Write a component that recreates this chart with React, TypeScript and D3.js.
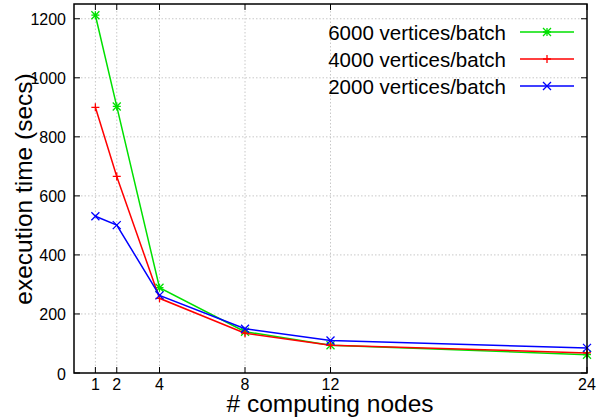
import React from "react";
import * as d3 from "d3";

const nodes = [1, 2, 4, 8, 12, 24];
const v6000 = [1212, 903, 289, 140, 94, 62];
const v4000 = [900, 666, 253, 135, 94, 68];
const v2000 = [531, 501, 263, 150, 110, 85];
const xTicks = [1, 2, 4, 8, 12, 24];
const yTicks = [0, 200, 400, 600, 800, 1000, 1200];
const seriesNames = ["6000 vertices/batch", "4000 vertices/batch", "2000 vertices/batch"];
const seriesColors = ["#00e000", "#ff0000", "#0000ff"];

const W = 611, H = 419;
const L = 74, R = 587, T = 4, B = 373;

function Marker({ type, x, y, color }: { type: number; x: number; y: number; color: string }) {
  const s = 4;
  const plus = `M${x - s},${y}H${x + s}M${x},${y - s}V${y + s}`;
  const cross = `M${x - s},${y - s}L${x + s},${y + s}M${x - s},${y + s}L${x + s},${y - s}`;
  const d = type === 0 ? plus + cross : type === 1 ? plus : cross;
  return <path d={d} stroke={color} strokeWidth={1.3} fill="none" />;
}

export default function App() {
  const x = d3.scaleLinear().domain([0, 24]).range([L, R]);
  const y = d3.scaleLinear().domain([0, 1250]).range([B, T]);
  const data = [v6000, v4000, v2000];
  const line = d3.line<number>().x((_, i) => x(nodes[i])).y((d) => y(d));
  const font = "'Liberation Sans', Arial, sans-serif";
  const markerType = [0, 1, 2];
  return (
    <svg width={W} height={H} style={{ position: "absolute", left: 0, top: 0 }} fontFamily={font}>
      <rect width={W} height={H} fill="#fff" />
      {/* grid */}
      {xTicks.filter((t) => t < 24).map((t) => (
        <line key={"gx" + t} x1={x(t)} x2={x(t)} y1={T} y2={B} stroke="#c8c8c8" strokeDasharray="1.5,2" />
      ))}
      {yTicks.filter((t) => t > 0).map((t) => (
        <line key={"gy" + t} x1={L} x2={R} y1={y(t)} y2={y(t)} stroke="#c8c8c8" strokeDasharray="1.5,2" />
      ))}
      {/* ticks */}
      {xTicks.map((t) => (
        <g key={"tx" + t}>
          <line x1={x(t)} x2={x(t)} y1={B} y2={B - 6} stroke="#000" />
          <line x1={x(t)} x2={x(t)} y1={T} y2={T + 6} stroke="#000" />
          <text x={x(t)} y={390} textAnchor="middle" fontSize={16}>{t}</text>
        </g>
      ))}
      {yTicks.map((t) => (
        <g key={"ty" + t}>
          <line x1={L} x2={L + 6} y1={y(t)} y2={y(t)} stroke="#000" />
          <line x1={R} x2={R - 6} y1={y(t)} y2={y(t)} stroke="#000" />
          <text x={66} y={y(t) + 6.5} textAnchor="end" fontSize={16}>{t}</text>
        </g>
      ))}
      {/* series */}
      {data.map((vals, si) => (
        <g key={"s" + si}>
          <path d={line(vals) || ""} fill="none" stroke={seriesColors[si]} strokeWidth={1.5} />
          {vals.map((v, i) => (
            <Marker key={i} type={markerType[si]} x={x(nodes[i])} y={y(v)} color={seriesColors[si]} />
          ))}
        </g>
      ))}
      {/* legend */}
      {seriesNames.map((n, i) => {
        const cy = 32 + i * 27;
        return (
          <g key={"lg" + i}>
            <text x={506} y={cy + 7.5} textAnchor="end" fontSize={20.5}>{n}</text>
            <line x1={520} x2={574} y1={cy} y2={cy} stroke={seriesColors[i]} strokeWidth={1.5} />
            <Marker type={markerType[i]} x={547} y={cy} color={seriesColors[i]} />
          </g>
        );
      })}
      {/* frame */}
      <rect x={L} y={T} width={R - L} height={B - T} fill="none" stroke="#000" strokeWidth={1.5} />
      {/* axis labels */}
      <text x={330} y={411.5} textAnchor="middle" fontSize={24.5}># computing nodes</text>
      <text transform={`translate(32,189) rotate(-90)`} textAnchor="middle" fontSize={24.5}>execution time (secs)</text>
    </svg>
  );
}
